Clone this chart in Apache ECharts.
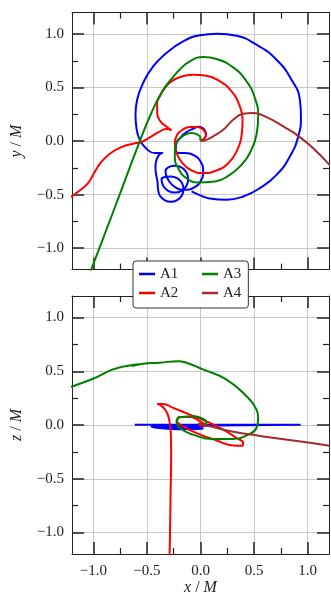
<!DOCTYPE html>
<html>
<head>
<meta charset="utf-8">
<script src="https://cdn.jsdelivr.net/npm/echarts@6/dist/echarts.min.js"></script>
<style>
  html, body { margin: 0; padding: 0; background: #fff; }
  #chart { width: 331px; height: 594px; }
</style>
</head>
<body>
<div id="chart"></div>
<script>
// orbit traces, [x, y] in units of M (top panel)
const a1XY = [
  [-0.084, -0.470], [0.009, -0.511], [0.087, -0.536], [0.243, -0.548], [0.399, -0.517], [0.555, -0.439],
  [0.710, -0.315], [0.835, -0.143], [0.913, 0.044], [0.938, 0.231], [0.928, 0.386], [0.850, 0.573],
  [0.710, 0.760], [0.523, 0.900], [0.336, 0.984], [0.156, 1.003], [-0.006, 0.988], [-0.162, 0.931],
  [-0.318, 0.822], [-0.442, 0.698], [-0.536, 0.542], [-0.592, 0.386], [-0.607, 0.246], [-0.598, 0.121],
  [-0.567, 0.012], [-0.505, -0.072], [-0.427, -0.112], [-0.349, -0.110], [-0.383, -0.125], [-0.408, -0.168],
  [-0.421, -0.237], [-0.414, -0.315], [-0.402, -0.377],
  [-0.396, -0.449], [-0.380, -0.508], [-0.336, -0.551], [-0.277, -0.567], [-0.218, -0.551], [-0.174, -0.508],
  [-0.159, -0.449], [-0.174, -0.389], [-0.218, -0.346], [-0.277, -0.330], [-0.333, -0.336],
  [-0.364, -0.355], [-0.349, -0.417], [-0.302, -0.464], [-0.240, -0.480], [-0.178, -0.464], [-0.131, -0.417],
  [-0.115, -0.355], [-0.131, -0.293], [-0.178, -0.246], [-0.240, -0.231], [-0.302, -0.246], [-0.327, -0.283],
  [-0.296, -0.371], [-0.234, -0.433], [-0.146, -0.455], [-0.059, -0.433], [0.003, -0.371], [0.025, -0.283],
  [0.003, -0.196], [-0.059, -0.134], [-0.146, -0.112], [-0.202, -0.112], [-0.231, -0.081], [-0.227, -0.025],
  [-0.184, 0.037], [-0.131, 0.084], [-0.069, 0.115], [-0.012, 0.135], [0.034, 0.110], [0.053, 0.062],
  [0.034, 0.022], [0.0, 0.003]
]
const a2XY = [
  [-1.28, -0.57], [-1.206, -0.518], [-1.128, -0.462], [-1.050, -0.393], [-1.003, -0.315], [-0.957, -0.237],
  [-0.894, -0.159], [-0.817, -0.097], [-0.723, -0.050], [-0.630, -0.025], [-0.551, -0.008], [-0.474, 0.034],
  [-0.396, 0.081], [-0.318, 0.112], [-0.271, 0.100], [-0.318, 0.137], [-0.374, 0.184], [-0.405, 0.262],
  [-0.405, 0.355], [-0.380, 0.417], [-0.333, 0.495], [-0.271, 0.558], [-0.178, 0.604], [-0.069, 0.620],
  [0.056, 0.611], [0.181, 0.558], [0.290, 0.464], [0.361, 0.340], [0.393, 0.199], [0.383, 0.044],
  [0.336, -0.097], [0.259, -0.206], [0.150, -0.274], [0.025, -0.299], [-0.084, -0.274], [-0.168, -0.206],
  [-0.224, -0.112], [-0.240, -0.019], [-0.218, 0.059], [-0.168, 0.106], [-0.100, 0.131], [-0.031, 0.131],
  [0.025, 0.106], [0.050, 0.065], [0.037, 0.025], [0.006, 0.003]
]
const a3XY = [
  [-1.065, -1.321], [-1.019, -1.196], [-0.800, -0.620], [-0.567, 0.0], [-0.460, 0.260], [-0.360, 0.460],
  [-0.271, 0.580], [-0.193, 0.668], [-0.100, 0.745], [0.025, 0.785], [0.150, 0.766], [0.305, 0.688],
  [0.430, 0.558], [0.508, 0.402], [0.539, 0.231], [0.523, 0.059], [0.467, -0.097], [0.383, -0.221],
  [0.274, -0.315], [0.134, -0.377], [-0.022, -0.386], [-0.131, -0.346], [-0.209, -0.252], [-0.240, -0.143],
  [-0.234, -0.050], [-0.199, 0.019], [-0.146, 0.059], [-0.084, 0.075], [-0.031, 0.062], [0.0, 0.031],
  [-0.006, 0.006]
]
const a4XY = [
  [0.0, 0.0], [0.056, 0.012], [0.118, 0.044], [0.212, 0.106], [0.305, 0.199], [0.399, 0.255],
  [0.492, 0.262], [0.617, 0.224], [0.773, 0.137], [0.928, 0.037], [1.084, -0.097], [1.209, -0.227],
  [1.30, -0.32]
]

// same orbits, [x, z] (bottom panel)
const a1XZ = [
  [-0.614, 0.003], [0.935, 0.003], [0.400, -0.002], [-0.100, -0.010], [-0.460, -0.015], [-0.350, -0.030],
  [0.025, -0.035], [-0.200, -0.040], [-0.400, -0.025], [0.020, -0.020], [-0.300, -0.012], [0.0, -0.005]
]
const a2XZ = [
  [-0.293, -1.35], [-0.287, -1.134], [-0.280, -0.667], [-0.274, -0.262], [-0.277, -0.075], [-0.293, 0.050],
  [-0.324, 0.134], [-0.374, 0.184], [-0.405, 0.196], [-0.349, 0.196], [-0.255, 0.159], [-0.100, 0.097],
  [0.056, 0.034], [0.212, -0.044], [0.336, -0.121], [0.399, -0.168], [0.393, -0.193], [0.305, -0.190],
  [0.134, -0.137], [-0.037, -0.075], [-0.162, -0.012], [-0.218, 0.034], [-0.193, 0.075], [-0.100, 0.075],
  [-0.006, 0.034], [0.040, 0.003], [0.009, -0.006], [-0.019, 0.016]
]
const a3XZ = [
  [-1.30, 0.321], [-1.191, 0.361], [-1.004, 0.430], [-0.817, 0.517], [-0.661, 0.554], [-0.580, 0.566],
  [-0.640, 0.548], [-0.536, 0.570], [-0.380, 0.579], [-0.209, 0.594], [-0.131, 0.579], [0.024, 0.517],
  [0.243, 0.423], [0.430, 0.267], [0.523, 0.143], [0.539, 0.065], [0.523, -0.028], [0.445, -0.090],
  [0.305, -0.131], [0.118, -0.131], [-0.069, -0.090], [-0.193, -0.028], [-0.224, 0.034], [-0.178, 0.075],
  [-0.069, 0.081], [0.025, 0.056], [0.056, 0.019], [0.010, 0.0]
]
const a4XZ = [
  [-0.020, 0.015], [0.090, -0.012], [0.270, -0.055], [0.554, -0.102], [0.866, -0.144], [1.208, -0.193],
  [1.30, -0.205]
]

const majorTicks = [-1.0, -0.5, 0.0, 0.5, 1.0]
const minorTicks = [-0.75, -0.25, 0.25, 0.75]
const names = ['A1', 'A2', 'A3', 'A4']
const colors = ['#0000ff', '#ff0000', '#008000', '#a52a2a']
const legendOrder = ['A1', 'A3', 'A2', 'A4']

const font = 'Liberation Serif'
const ink = '#222'

function fmt(v) {
  return (v < 0 ? '\u2212' : '') + Math.abs(v).toFixed(1)
}

const nameStyle = {
  fontFamily: font, fontSize: 16, color: ink,
  rich: { i: { fontFamily: font, fontSize: 16, fontStyle: 'italic', color: ink } }
}

// one side of the frame: major ticks (+ labels, grid lines) and minor ticks
function side(dim, grid, pos, opts) {
  const base = { type: 'value', gridIndex: grid, position: pos, min: -1.2, max: 1.2, scale: true }
  const major = Object.assign({}, base, {
    axisLine: { show: true, onZero: false, lineStyle: { color: ink, width: 1 } },
    axisTick: { show: true, inside: true, length: 12, customValues: majorTicks, lineStyle: { color: ink, width: 1.5 } },
    axisLabel: {
      show: !!opts.labels, customValues: majorTicks, formatter: fmt, margin: dim === 'x' ? 10 : 8,
      fontFamily: font, fontSize: 15, color: ink
    },
    splitLine: { show: !!opts.split, lineStyle: { color: '#c8c8c8', width: 1 } }
  })
  if (opts.name) {
    major.name = opts.name
    major.nameLocation = 'middle'
    major.nameGap = dim === 'x' ? 25 : 47
    major.nameTextStyle = nameStyle
  }
  const minor = Object.assign({}, base, {
    axisLine: { show: false, onZero: false },
    axisTick: { show: true, inside: true, length: 6, customValues: minorTicks, lineStyle: { color: ink, width: 1.2 } },
    axisLabel: { show: false },
    splitLine: { show: false }
  })
  return [major, minor]
}

const xAxis = [
  ...side('x', 0, 'bottom', { split: true }),
  ...side('x', 0, 'top', {}),
  ...side('x', 1, 'bottom', { split: true, labels: true, name: '{i|x} / {i|M}' }),
  ...side('x', 1, 'top', {})
]
const yAxis = [
  ...side('y', 0, 'left', { split: true, labels: true, name: '{i|y} / {i|M}' }),
  ...side('y', 0, 'right', {}),
  ...side('y', 1, 'left', { split: true, labels: true, name: '{i|z} / {i|M}' }),
  ...side('y', 1, 'right', {})
]

function trace(i, data, axisIndex) {
  return {
    name: names[i],
    type: 'line',
    data: data,
    xAxisIndex: axisIndex,
    yAxisIndex: axisIndex,
    symbol: 'none',
    smooth: 0.5,
    clip: true,
    lineStyle: { color: colors[i], width: 2 },
    itemStyle: { color: colors[i] },
    emphasis: { disabled: true }
  }
}

const topData = [a1XY, a2XY, a3XY, a4XY]
const bottomData = [a1XZ, a2XZ, a3XZ, a4XZ]
const series = []
topData.forEach((d, i) => series.push(trace(i, d, 0)))
bottomData.forEach((d, i) => series.push(trace(i, d, 4)))

const option = {
  animation: false,
  backgroundColor: '#fff',
  grid: [
    { left: 72, top: 12.6, width: 257, height: 257, outerBoundsMode: 'none' },
    { left: 72, top: 296, width: 257, height: 258, outerBoundsMode: 'none' }
  ],
  xAxis: xAxis,
  yAxis: yAxis,
  legend: {
    data: legendOrder.map(n => (n === 'A1' || n === 'A2') ? { name: n, textStyle: { width: 39 } } : { name: n }),
    left: 133,
    top: 261,
    width: 120,
    orient: 'horizontal',
    icon: 'rect',
    itemWidth: 16,
    itemHeight: 2.5,
    itemGap: 3,
    padding: [5, 7, 7, 6],
    backgroundColor: '#fff',
    borderColor: '#333',
    borderWidth: 1,
    borderRadius: 3,
    selectedMode: false,
    textStyle: { fontFamily: font, fontSize: 15, color: ink, lineHeight: 16 },
    z: 10
  },
  series: series
}

const chart = echarts.init(document.getElementById('chart'))
chart.setOption(option)
</script>
</body>
</html>
